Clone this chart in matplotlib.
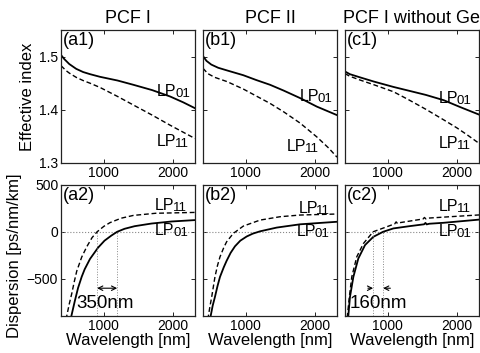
import matplotlib
matplotlib.use("Agg")
import matplotlib.pyplot as plt

plt.rcParams['font.family'] = ['Liberation Sans', 'DejaVu Sans']

titles = ["PCF I", "PCF II", "PCF I without Ge"]
labels_top = ["(a1)", "(b1)", "(c1)"]
labels_bot = ["(a2)", "(b2)", "(c2)"]

# ---- effective index (top row) ----
wl_a1_01 = [380, 430, 500, 600, 700, 800, 945, 1200, 1428, 1700, 1960, 2150, 2320]
n_a1_01 = [1.503, 1.495, 1.486, 1.477, 1.471, 1.467, 1.462, 1.455, 1.447, 1.437, 1.425, 1.414, 1.403]
wl_a1_11 = [380, 450, 500, 600, 700, 800, 945, 1200, 1428, 1700, 1960, 2320]
n_a1_11 = [1.483, 1.474, 1.469, 1.461, 1.455, 1.450, 1.442, 1.425, 1.409, 1.390, 1.371, 1.346]

wl_b1_01 = [380, 430, 500, 600, 728, 964, 1150, 1351, 1550, 1786, 2028, 2320]
n_b1_01 = [1.501, 1.492, 1.485, 1.479, 1.474, 1.465, 1.456, 1.447, 1.436, 1.422, 1.406, 1.390]
wl_b1_11 = [380, 450, 550, 728, 964, 1150, 1351, 1550, 1786, 2028, 2200, 2320]
n_b1_11 = [1.478, 1.468, 1.461, 1.453, 1.439, 1.426, 1.412, 1.396, 1.375, 1.349, 1.328, 1.311]

wl_c1_01 = [380, 450, 597, 800, 1081, 1300, 1550, 1810, 2050, 2320]
n_c1_01 = [1.472, 1.467, 1.461, 1.453, 1.443, 1.436, 1.428, 1.418, 1.405, 1.391]
wl_c1_11 = [380, 450, 597, 800, 1081, 1300, 1550, 1810, 2000, 2148, 2320]
n_c1_11 = [1.468, 1.463, 1.456, 1.447, 1.434, 1.419, 1.401, 1.381, 1.366, 1.353, 1.337]

# ---- dispersion (bottom row) ----
wl_a2_01 = [500, 530, 580, 627, 680, 723, 800, 916, 1010, 1110, 1193, 1300, 1447, 1689, 1979, 2320]
d_a2_01 = [-1100, -900, -740, -600, -480, -400, -290, -170, -95, -40, 0, 32, 60, 88, 110, 125]
wl_a2_11 = [440, 463, 500, 536, 570, 608, 680, 753, 830, 903, 1000, 1090, 1250, 1428, 1752, 2320]
d_a2_11 = [-1100, -900, -770, -660, -540, -420, -270, -160, -62, 0, 58, 98, 145, 175, 198, 207]

wl_b2_01 = [470, 491, 520, 553, 590, 626, 680, 722, 780, 843, 920, 1013, 1100, 1206, 1447, 1786, 2320]
d_b2_01 = [-1100, -900, -790, -696, -580, -482, -380, -310, -225, -155, -95, -50, -20, 5, 45, 80, 107]
wl_b2_11 = [440, 458, 480, 506, 553, 590, 626, 680, 722, 819, 964, 1206, 1496, 1786, 2320]
d_b2_11 = [-1100, -900, -800, -696, -482, -360, -268, -170, -107, -17, 61, 125, 161, 179, 190]

wl_c2_01 = [415, 428, 452, 501, 573, 670, 790, 932, 1081, 1323, 1525, 1545, 1562, 1600, 1805, 2320]
d_c2_01 = [-1000, -900, -696, -482, -285, -142, -54, 0, 36, 61, 80, 95, 79, 86, 96, 130]
wl_c2_11 = [405, 414, 443, 478, 550, 647, 787, 935, 1100, 1120, 1140, 1170, 1323, 1510, 1530, 1550,
            1580, 1901, 2320]
d_c2_11 = [-1000, -900, -696, -482, -268, -125, 0, 40, 85, 106, 88, 97, 115, 137, 153, 138,
           146, 161, 180]

# zero-crossing markers and annotations
cross_a2 = [903, 1193]
cross_c2 = [787, 932]

index_data = [
    (wl_a1_01, n_a1_01, wl_a1_11, n_a1_11),
    (wl_b1_01, n_b1_01, wl_b1_11, n_b1_11),
    (wl_c1_01, n_c1_01, wl_c1_11, n_c1_11),
]
disp_data = [
    (wl_a2_01, d_a2_01, wl_a2_11, d_a2_11),
    (wl_b2_01, d_b2_01, wl_b2_11, d_b2_11),
    (wl_c2_01, d_c2_01, wl_c2_11, d_c2_11),
]

# label positions (wavelength, value)
lp_top = [((1770, 1.434), (1770, 1.340)),
          ((1776, 1.425), (1593, 1.331)),
          ((1733, 1.422), (1733, 1.337))]
lp_bot = [((1742, 18), (1742, 286)),
          ((1738, 0), (1761, 250)),
          ((1733, 0), (1733, 268))]

W, H = 481, 353
fig = plt.figure(figsize=(W / 100, H / 100), dpi=100)

lefts = [61, 203, 345]
pw = 134
dash = (0, (3.5, 2))


def style_axes(ax):
    ax.tick_params(direction='in', top=True, right=True, length=3, width=0.6,
                   labelsize=10, pad=2)
    for s in ax.spines.values():
        s.set_linewidth(0.9)
        s.set_color('#222222')
    ax.set_xlim(380, 2320)
    ax.set_xticks([1000, 2000])


def lp_label(ax, x, y, sub):
    # "LP" with a slightly smaller, slightly lowered mode index
    ax.text(x, y, "LP", fontsize=11.5, ha='left', va='center')
    ax.annotate(sub, xy=(x, y), xytext=(13.0, -1.8), textcoords='offset points',
                fontsize=9.5, ha='left', va='center')


for i in range(3):
    # top row
    ax = fig.add_axes([lefts[i] / W, 1 - 163 / H, pw / W, 133 / H])
    w01, v01, w11, v11 = index_data[i]
    ax.plot(w01, v01, color='black', lw=1.3)
    ax.plot(w11, v11, color='black', lw=1.0, linestyle=dash)
    ax.set_ylim(1.3, 1.55)
    ax.set_yticks([1.3, 1.4, 1.5])
    ax.set_yticklabels(['1.3', '1.4', '1.5'])
    style_axes(ax)
    if i > 0:
        ax.set_yticklabels([])
    ax.set_title(titles[i], fontsize=13, pad=5)
    ax.text(0.015, 0.985, labels_top[i], transform=ax.transAxes, ha='left', va='top',
            fontsize=13)
    (x1, y1), (x2, y2) = lp_top[i]
    lp_label(ax, x1, y1, "01")
    lp_label(ax, x2, y2, "11")

    # bottom row
    ax = fig.add_axes([lefts[i] / W, 1 - 316 / H, pw / W, 131 / H])
    w01, v01, w11, v11 = disp_data[i]
    ax.axhline(0, color='#888888', lw=0.8, linestyle=':')
    ax.plot(w01, v01, color='black', lw=1.3)
    ax.plot(w11, v11, color='black', lw=1.0, linestyle=dash)
    ax.set_ylim(-900, 500)
    ax.set_yticks([-500, 0, 500])
    style_axes(ax)
    if i > 0:
        ax.set_yticklabels([])
    ax.set_xlabel("Wavelength [nm]", fontsize=12, labelpad=0)
    ax.text(0.015, 0.985, labels_bot[i], transform=ax.transAxes, ha='left', va='top',
            fontsize=13)
    (x1, y1), (x2, y2) = lp_bot[i]
    lp_label(ax, x1, y1, "01")
    lp_label(ax, x2, y2, "11")

    if i == 0:
        for c in cross_a2:
            ax.plot([c, c], [-900, 0], color='#888888', lw=0.7, linestyle=':')
        ax.annotate('', xy=(cross_a2[1], -603), xytext=(cross_a2[0], -603),
                    arrowprops=dict(arrowstyle='<->', lw=0.8, color='black',
                                    shrinkA=0, shrinkB=0, mutation_scale=8))
        ax.text(600, -770, "350nm", fontsize=13.5, ha='left', va='center')
    if i == 2:
        for c in cross_c2:
            ax.plot([c, c], [-900, 0], color='#888888', lw=0.7, linestyle=':')
        ax.annotate('', xy=(cross_c2[0], -603), xytext=(cross_c2[0] - 75, -603),
                    arrowprops=dict(arrowstyle='->', lw=0.8, color='black',
                                    shrinkA=0, shrinkB=0, mutation_scale=8))
        ax.annotate('', xy=(cross_c2[1], -603), xytext=(cross_c2[1] + 105, -603),
                    arrowprops=dict(arrowstyle='->', lw=0.8, color='black',
                                    shrinkA=0, shrinkB=0, mutation_scale=8))
        ax.text(440, -770, "160nm", fontsize=13.5, ha='left', va='center')

fig.text(28 / W, 1 - 96.5 / H, "Effective index", rotation=90, ha='center', va='center',
         fontsize=12)
fig.text(15 / W, 1 - 256 / H, "Dispersion [ps/nm/km]", rotation=90, ha='center',
         va='center', fontsize=12)

fig.savefig("out.png", dpi=100)
